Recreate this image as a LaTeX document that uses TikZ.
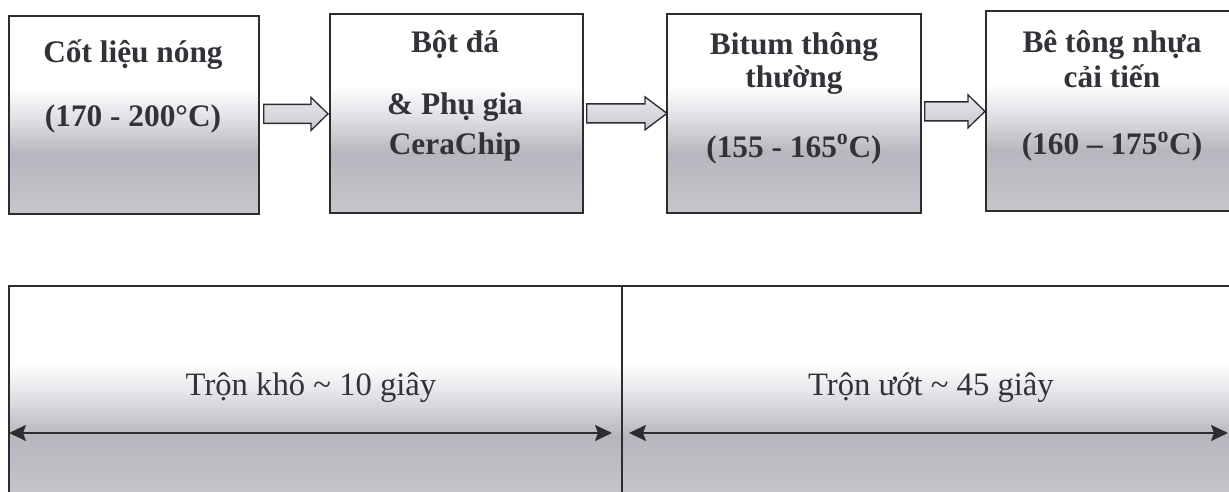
\documentclass[tikz,border=0pt]{standalone}
\usepackage{fontspec}
\setmainfont{Liberation Serif}
\usetikzlibrary{arrows.meta,calc}

\definecolor{inkline}{RGB}{45,45,48}
\definecolor{inktext}{RGB}{50,50,56}
\definecolor{pnlB}{RGB}{198,198,204}
\definecolor{pnlM}{RGB}{182,182,190}
\definecolor{pnlL}{RGB}{232,232,236}
\definecolor{arrF}{RGB}{200,200,206}

% white top fading into grey towards the bottom (path spans 25bp..75bp)
\pgfdeclareverticalshading{panelfade}{100bp}{%
  color(0bp)=(pnlB); color(25bp)=(pnlB); color(40bp)=(pnlM);
  color(51bp)=(pnlL); color(57bp)=(white); color(100bp)=(white)}

\def\pxu{0.75pt}

% block arrow: tail point, tip point (same height), head length
\newcommand\blockarr[3]{%
  \draw[blockarrow] let \p1=#1, \p2=#2 in
    (\x1,\y1-9.5*\pxu) -- (\x2-#3*\pxu,\y1-9.5*\pxu) -- (\x2-#3*\pxu,\y1-16.5*\pxu)
    -- (\x2,\y1) -- (\x2-#3*\pxu,\y1+16.5*\pxu) -- (\x2-#3*\pxu,\y1+9.5*\pxu)
    -- (\x1,\y1+9.5*\pxu) -- cycle;}

\tikzset{
  stage/.style={draw=inkline, line width=1.3pt, shading=panelfade,
    rectangle, inner sep=0pt, anchor=north west},
  stagetext/.style={anchor=base, inner sep=0pt, text=inktext,
    font=\fontsize{23.5}{28}\selectfont\bfseries},
  phasetext/.style={anchor=base, inner sep=0pt, text=inktext,
    font=\fontsize{24.5}{29}\selectfont},
  blockarrow/.style={draw=inkline, line width=1pt, line join=miter,
    top color=pnlL, bottom color=arrF},
  span/.style={draw=inkline, line width=1.4pt,
    {Stealth[length={17*\pxu},width={16*\pxu},inset={3*\pxu}]}-{Stealth[length={17*\pxu},width={16*\pxu},inset={3*\pxu}]}}
}

\begin{document}
\begin{tikzpicture}[x=0.75pt,y=-0.75pt]
\useasboundingbox (0,0) rectangle (1229,492);
\clip (0,0) rectangle (1229,492);

% process stages
\node[stage, minimum width={250*\pxu}, minimum height={198*\pxu}] (b1) at (8,15) {};
\node[stage, minimum width={253*\pxu}, minimum height={199*\pxu}] (b2) at (329,13) {};
\node[stage, minimum width={254*\pxu}, minimum height={199*\pxu}] (b3) at (666,13) {};
\node[stage, minimum width={258*\pxu}, minimum height={200*\pxu}] (b4) at (985,10) {};

\node[stagetext] (t11) at (133,63) {Cốt liệu nóng};
\node[stagetext] (t12) at (133,127) {(170 - 200°C)};

\node[stagetext] (t21) at (455,53) {Bột đá};
\node[stagetext] (t22) at (455,115) {\& Phụ gia};
\node[stagetext] (t23) at (455,155) {CeraChip};

\node[stagetext] (t31) at (794,55) {Bitum thông};
\node[stagetext] (t32) at (794,88) {thường};
\node[stagetext] (t33) at (794,157) {(155 - 165\textsuperscript{o}C)};

\node[stagetext] (t41) at (1112,53) {Bê tông nhựa};
\node[stagetext] (t42) at (1112,88) {cải tiến};
\node[stagetext] (t43) at (1112,155) {(160 – 175\textsuperscript{o}C)};

% block arrows between stages
\blockarr{($(b1.east)+(4,-1)$)}{($(b2.west)+(-1,-1)$)}{17}
\blockarr{($(b2.east)+(3,0)$)}{($(b3.west)+(1,0)$)}{22}
\blockarr{($(b3.east)+(3,-2)$)}{($(b4.west)+(0,-2)$)}{17}

% mixing time panel
\node[stage, minimum width={1240*\pxu}, minimum height={215*\pxu}] (mix) at (8,285) {};
\coordinate (dv) at (622,285);
\draw[draw=inkline, line width=1.3pt] (mix.north -| dv) -- (mix.south -| dv);

\node[phasetext] (p1) at (311,395) {Trộn khô \textasciitilde{} 10 giây};
\node[phasetext] (p2) at (931,395) {Trộn ướt \textasciitilde{} 45 giây};

\coordinate (d1) at (9,433);
\coordinate (d2) at (612,433);
\coordinate (w1) at (629,433);
\coordinate (w2) at (1228,433);
\draw[span] (d1) -- (d2);
\draw[span] (w1) -- (w2);
\end{tikzpicture}
\end{document}
